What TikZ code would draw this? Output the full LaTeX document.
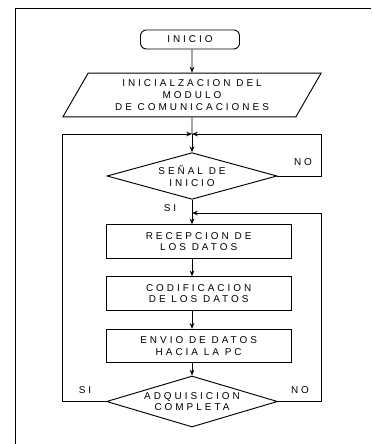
\documentclass[tikz,border=0pt]{standalone}
\usepackage{fontspec}
\setmainfont{Liberation Sans}[LetterSpace=30]
\usetikzlibrary{shapes.geometric,arrows.meta,positioning}

\begin{document}
\begin{tikzpicture}[node distance={15mm}, line width=0.8pt, >={Stealth[length=5pt,width=4pt]}, font=\fontsize{8.5}{10}\selectfont]
                \tikzstyle{term} = [rectangle, rounded corners=5pt, draw, minimum width=2.97cm, minimum height=0.57cm, align=center]
                \tikzstyle{io} = [trapezium, trapezium left angle=60, trapezium right angle=120, draw, minimum width=7.77cm, minimum height=1.2cm, inner sep=1pt, align=center]
                \tikzstyle{proc} = [rectangle, draw, minimum width=5.55cm, minimum height=1cm, align=center]
                \tikzstyle{decision} = [diamond, aspect=3.6, draw, minimum width=5.1cm, minimum height=1.4cm, inner sep=0pt, align=center]
                \tikzstyle{junction} = [coordinate]

                \useasboundingbox (0,0) rectangle (11.13,-13.32);

                % Frame (top and left edge of the scan)
                \draw (0.45,-0.24) -- (11.13,-0.24);
                \draw (0.45,-0.24) -- (0.45,-13.32);

                % Main column
                \node[term] (n1) at (5.7,-1.185) {INICIO};
                \node[io] (n2) [below of=n1, node distance=1.665cm, xshift=0.06cm] {INICIALZACION DEL\\MODULO\\DE COMUNICACIONES};
                \node[junction] (j1) [below of=n2, node distance=1.17cm] {};
                \node[decision] (d1) [below of=j1, node distance=1.26cm] {SEÑAL DE\\INICIO};
                \node[junction] (j2) [below of=d1, node distance=1.11cm] {};
                \node[proc] (b1) [below of=j2, node distance=0.855cm, xshift=0.2cm] {RECEPCION DE\\LOS DATOS};
                \node[proc] (b2) [below of=b1, node distance=1.56cm] {CODIFICACION\\DE LOS DATOS};
                \node[proc] (b3) [below of=b2, node distance=1.575cm] {ENVIO DE DATOS\\HACIA LA PC};
                \node[decision] (d2) [below of=b3, node distance=1.665cm, xshift=-0.2cm, aspect=3.35, minimum height=1.53cm, minimum width=5.13cm] {ADQUISICION\\COMPLETA};

                % Labels
                \node (l1) at (9.09,-4.86) {NO};
                \node (l2) at (5.1,-6.24) {SI};
                \node (l3) at (2.55,-11.7) {SI};
                \node (l4) at (9.0,-11.7) {NO};

                \draw[->] (n1.south -| n2) -- (n2);
                \draw (n2.south) -- (j1);
                \draw[->] (j1) -- (d1);
                \draw (d1) -- (j2);
                \draw[->] (j2) -- (b1.north -| j2);
                \draw[->] (b1.south -| j2) -- (b2.north -| j2);
                \draw[->] (b2.south -| j2) -- (b3.north -| j2);
                \draw[->] (b3.south -| j2) -- (d2);

                % Loops
                \draw[->] (d1.east) -| (n2.top right corner |- j1) -- (j1);
                \draw[->] (d2.west) -| (n2.bottom left corner |- j1) -- (j1);
                \draw[->] (d2.east) -| (n2.top right corner |- j2) -- (j2);
            \end{tikzpicture}
\end{document}
